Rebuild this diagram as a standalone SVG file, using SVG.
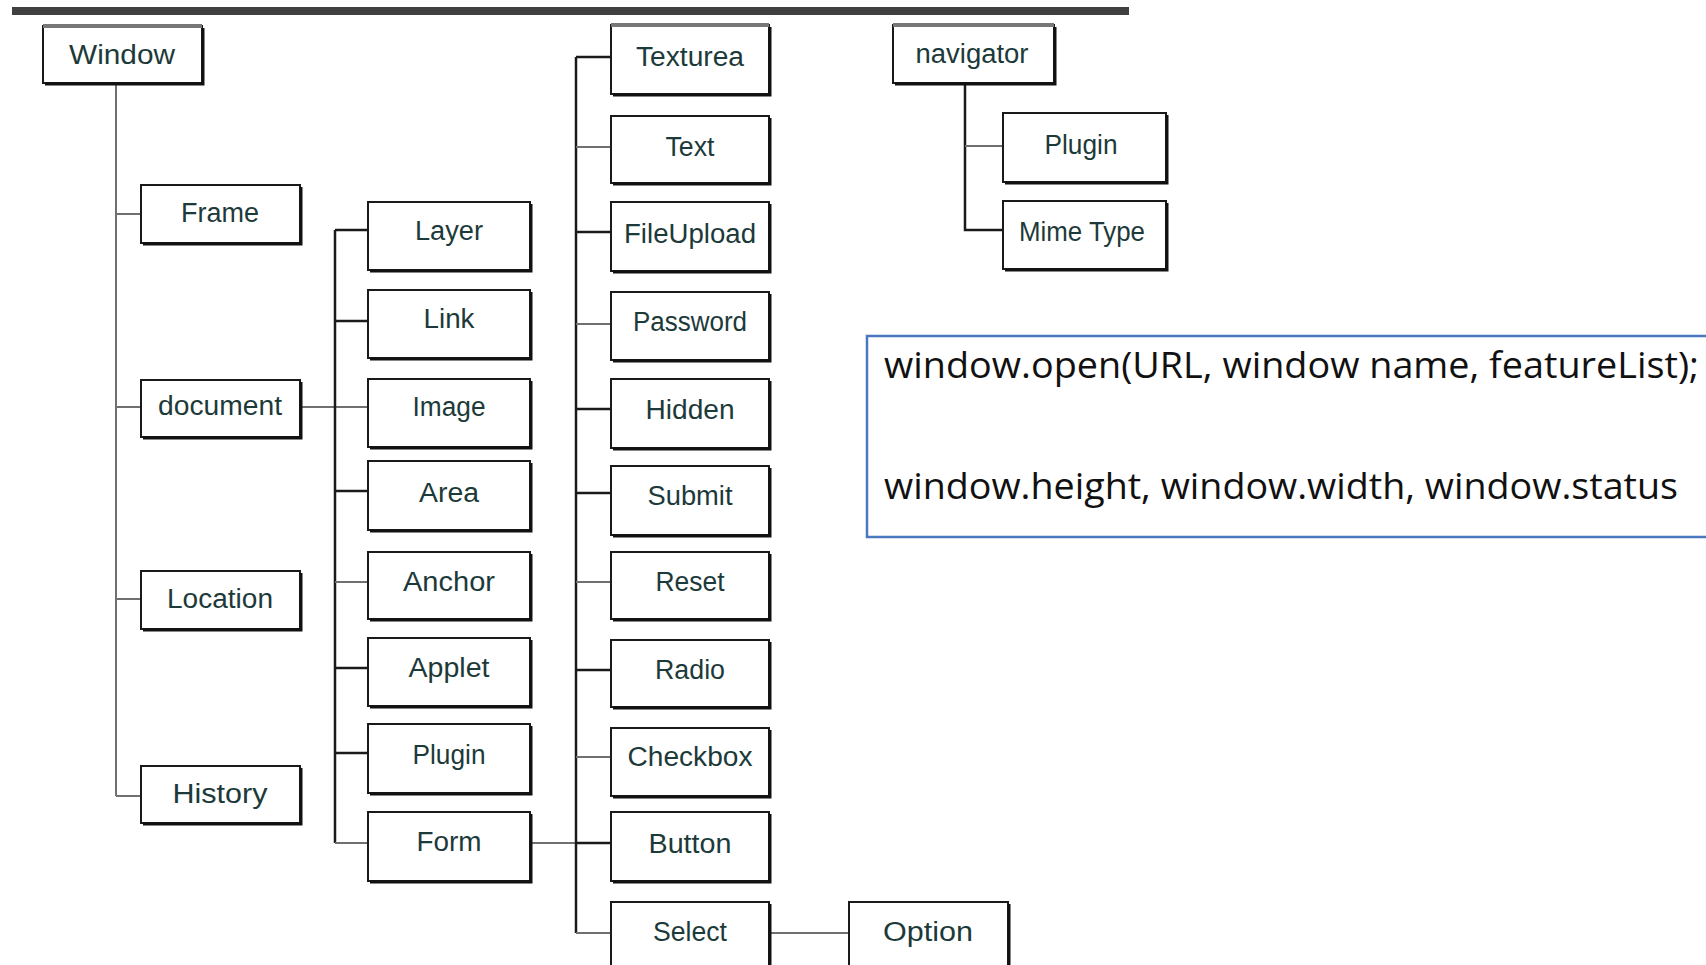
<svg xmlns="http://www.w3.org/2000/svg" width="1706" height="965" viewBox="0 0 1706 965">
<style>
.box{fill:#fff;stroke:#1a1a1a;stroke-width:2}
.sh{fill:none;stroke:#111;stroke-width:3}
.lbl{font-family:"Liberation Sans",Arial,sans-serif;font-size:27px;fill:#1d3a3a;text-anchor:middle}
.cg{stroke:#707070;stroke-width:2;fill:none}
.cb{stroke:#1a1a1a;stroke-width:2.5;fill:none}
.code{font-family:"Open Sans","Noto Sans",sans-serif;font-size:37px;fill:#111}
</style>
<rect width="1706" height="965" fill="#fff"/>
<rect x="12" y="7" width="1117" height="8" fill="#404040"/>

<g id="connectors">
<path class="cg" d="M116 83V796M116 214H141M116 407H141M116 599H141M116 796H141"/>
<path class="cg" d="M300 407H368"/>
<path class="cb" d="M335 230V843M335 230H368M335 321H368M335 491H368M335 668H368M335 753H368"/>
<path class="cg" d="M335 582H368M335 843H368"/>
<path class="cg" d="M530 843H611"/>
<path class="cb" d="M576 57V933M576 57H611M576 232H611M576 409H611M576 493H611M576 670H611M576 843H611"/>
<path class="cg" d="M576 147H611M576 324H611M576 582H611M576 757H611M576 933H611"/>
<path class="cb" d="M965 83V230H1003"/>
<path class="cg" d="M965 146H1003"/>
<path class="cg" d="M770 933H849"/>
</g>

<g id="n-window"><rect class="box" x="43" y="26" width="159" height="57"/><path class="sh" d="M203 28V84H45"/><rect x="43" y="24" width="159" height="4" fill="#777"/><text class="lbl" x="122" y="64" textLength="106" lengthAdjust="spacingAndGlyphs">Window</text></g>
<g id="n-frame"><rect class="box" x="141" y="185" width="159" height="58"/><path class="sh" d="M301 187V244H143"/><text class="lbl" x="220" y="222" textLength="78" lengthAdjust="spacingAndGlyphs">Frame</text></g>
<g id="n-document"><rect class="box" x="141" y="380" width="159" height="57"/><path class="sh" d="M301 382V438H143"/><text class="lbl" x="220" y="415" textLength="124" lengthAdjust="spacingAndGlyphs">document</text></g>
<g id="n-location"><rect class="box" x="141" y="571" width="159" height="58"/><path class="sh" d="M301 573V630H143"/><text class="lbl" x="220" y="608" textLength="106" lengthAdjust="spacingAndGlyphs">Location</text></g>
<g id="n-history"><rect class="box" x="141" y="766" width="159" height="57"/><path class="sh" d="M301 768V824H143"/><text class="lbl" x="220" y="803" textLength="95" lengthAdjust="spacingAndGlyphs">History</text></g>

<g id="n-layer"><rect class="box" x="368" y="202" width="162" height="68"/><path class="sh" d="M531 204V271H370"/><text class="lbl" x="449" y="240" textLength="68" lengthAdjust="spacingAndGlyphs">Layer</text></g>
<g id="n-link"><rect class="box" x="368" y="290" width="162" height="68"/><path class="sh" d="M531 292V359H370"/><text class="lbl" x="449" y="328" textLength="51" lengthAdjust="spacingAndGlyphs">Link</text></g>
<g id="n-image"><rect class="box" x="368" y="379" width="162" height="68"/><path class="sh" d="M531 381V448H370"/><text class="lbl" x="449" y="416" textLength="73" lengthAdjust="spacingAndGlyphs">Image</text></g>
<g id="n-area"><rect class="box" x="368" y="461" width="162" height="69"/><path class="sh" d="M531 463V531H370"/><text class="lbl" x="449" y="502" textLength="60" lengthAdjust="spacingAndGlyphs">Area</text></g>
<g id="n-anchor"><rect class="box" x="368" y="552" width="162" height="67"/><path class="sh" d="M531 554V620H370"/><text class="lbl" x="449" y="591" textLength="92" lengthAdjust="spacingAndGlyphs">Anchor</text></g>
<g id="n-applet"><rect class="box" x="368" y="638" width="162" height="68"/><path class="sh" d="M531 640V707H370"/><text class="lbl" x="449" y="677" textLength="81" lengthAdjust="spacingAndGlyphs">Applet</text></g>
<g id="n-plugin"><rect class="box" x="368" y="724" width="162" height="69"/><path class="sh" d="M531 726V794H370"/><text class="lbl" x="449" y="764" textLength="73" lengthAdjust="spacingAndGlyphs">Plugin</text></g>
<g id="n-form"><rect class="box" x="368" y="812" width="162" height="69"/><path class="sh" d="M531 814V882H370"/><text class="lbl" x="449" y="851" textLength="65" lengthAdjust="spacingAndGlyphs">Form</text></g>

<g id="n-texturea"><rect class="box" x="611" y="25" width="158" height="69"/><path class="sh" d="M770 27V95H613"/><rect x="611" y="23" width="158" height="4" fill="#777"/><text class="lbl" x="690" y="66" textLength="108" lengthAdjust="spacingAndGlyphs">Texturea</text></g>
<g id="n-text"><rect class="box" x="611" y="116" width="158" height="67"/><path class="sh" d="M770 118V184H613"/><text class="lbl" x="690" y="156" textLength="49" lengthAdjust="spacingAndGlyphs">Text</text></g>
<g id="n-fileupload"><rect class="box" x="611" y="202" width="158" height="69"/><path class="sh" d="M770 204V272H613"/><text class="lbl" x="690" y="243" textLength="132" lengthAdjust="spacingAndGlyphs">FileUpload</text></g>
<g id="n-password"><rect class="box" x="611" y="292" width="158" height="68"/><path class="sh" d="M770 294V361H613"/><text class="lbl" x="690" y="331" textLength="114" lengthAdjust="spacingAndGlyphs">Password</text></g>
<g id="n-hidden"><rect class="box" x="611" y="379" width="158" height="69"/><path class="sh" d="M770 381V449H613"/><text class="lbl" x="690" y="419" textLength="89" lengthAdjust="spacingAndGlyphs">Hidden</text></g>
<g id="n-submit"><rect class="box" x="611" y="466" width="158" height="69"/><path class="sh" d="M770 468V536H613"/><text class="lbl" x="690" y="505" textLength="85" lengthAdjust="spacingAndGlyphs">Submit</text></g>
<g id="n-reset"><rect class="box" x="611" y="552" width="158" height="67"/><path class="sh" d="M770 554V620H613"/><text class="lbl" x="690" y="591" textLength="69" lengthAdjust="spacingAndGlyphs">Reset</text></g>
<g id="n-radio"><rect class="box" x="611" y="640" width="158" height="67"/><path class="sh" d="M770 642V708H613"/><text class="lbl" x="690" y="679" textLength="70" lengthAdjust="spacingAndGlyphs">Radio</text></g>
<g id="n-checkbox"><rect class="box" x="611" y="728" width="158" height="68"/><path class="sh" d="M770 730V797H613"/><text class="lbl" x="690" y="766" textLength="125" lengthAdjust="spacingAndGlyphs">Checkbox</text></g>
<g id="n-button"><rect class="box" x="611" y="812" width="158" height="69"/><path class="sh" d="M770 814V882H613"/><text class="lbl" x="690" y="853" textLength="83" lengthAdjust="spacingAndGlyphs">Button</text></g>
<g id="n-select"><rect class="box" x="611" y="902" width="158" height="80"/><path class="sh" d="M770 904V982"/><text class="lbl" x="690" y="941" textLength="74" lengthAdjust="spacingAndGlyphs">Select</text></g>
<g id="n-option"><rect class="box" x="849" y="902" width="159" height="80"/><path class="sh" d="M1009 904V982"/><text class="lbl" x="928" y="941" textLength="90" lengthAdjust="spacingAndGlyphs">Option</text></g>

<g id="n-navigator"><rect class="box" x="893" y="25" width="161" height="58"/><path class="sh" d="M1055 27V84H895"/><rect x="893" y="23" width="161" height="4" fill="#777"/><text class="lbl" x="972" y="63" textLength="113" lengthAdjust="spacingAndGlyphs">navigator</text></g>
<g id="n-navplugin"><rect class="box" x="1003" y="113" width="163" height="69"/><path class="sh" d="M1167 115V183H1005"/><text class="lbl" x="1081" y="154" textLength="73" lengthAdjust="spacingAndGlyphs">Plugin</text></g>
<g id="n-mimetype"><rect class="box" x="1003" y="201" width="163" height="68"/><path class="sh" d="M1167 203V270H1005"/><text class="lbl" x="1082" y="241" textLength="126" lengthAdjust="spacingAndGlyphs">Mime Type</text></g>

<g id="n-note">
<path d="M1720 336H867V537H1720" fill="#fff" stroke="#4a78c0" stroke-width="2.5"/>
<text class="code" x="884" y="378" textLength="815" lengthAdjust="spacingAndGlyphs">window.open(URL, window name, featureList);</text>
<text class="code" x="884" y="499" textLength="794" lengthAdjust="spacingAndGlyphs">window.height, window.width, window.status</text>
</g>
</svg>
